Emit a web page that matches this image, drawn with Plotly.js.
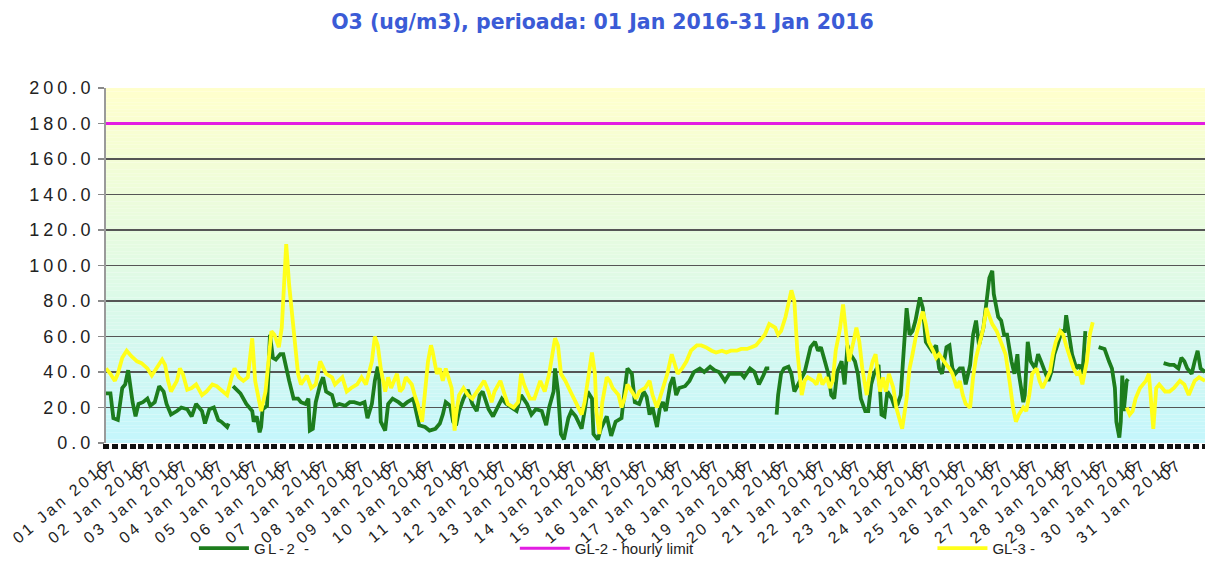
<!DOCTYPE html>
<html>
<head>
<meta charset="utf-8">
<script src="https://cdn.plot.ly/plotly-3.0.1.min.js"></script>
<style>
html,body{margin:0;padding:0;background:#fff;}
#chart{width:1205px;height:566px;}
.xtick text{letter-spacing:3px;}
.ytick text{letter-spacing:4px;}
.legendtext{letter-spacing:2.5px;}
</style>
</head>
<body>
<div id="chart"></div>
<script>
// ---- data (hours since 01 Jan 2016 00:00, value in ug/m3) ----
const days = [1,2,3,4,5,6,7,8,9,10,11,12,13,14,15,16,17,18,19,20,21,22,23,24,25,26,27,28,29,30,31];
const monthLabel = "Jan 2016";
const secondLabel = "07";

const gl2Hours = [0,3,5,8,11,13,15,18,20,22,25,28,30,33,36,39,41,44,48,51,55,58,61,65,67,70,73,76,78,82,83,84,86,91,95,99,100,102,104,105,106,109,111,113,115,118,120,122,124,127,130,132,135,137,138,140,142,145,147,149,153,155,158,162,165,168,172,175,177,180,182,184,185,186,189,191,194,198,201,204,208,212,216,219,223,226,228,230,233,235,237,239,242,245,248,251,253,255,259,262,265,268,271,274,278,281,285,288,291,295,298,300,303,304,306,308,310,313,315,318,322,324,326,329,330,333,335,339,342,345,349,351,353,356,358,361,364,366,368,370,373,375,377,379,382,384,386,388,392,395,398,402,405,409,412,415,419,422,427,430,432,436,439,442,445,447,449,451,454,455,457,459,462,464,466,470,473,477,480,482,484,486,489,491,493,495,498,500,502,504,507,509,511,514,516,518,520,523,525,527,529,532,534,536,538,542,544,546,548,551,553,555,559,562,564,566,569,571,573,575,578,580,582,585,587,589,591,594,596,598,600,601,604,606,608,610,613,615,617,618,621,622,624,626,629,631,633,635,638,640,642,644,647,649,650,652,654,657,659,661,663,666,672,676,679,681,683,684,686,687,688,689,691,692,694,716,720,723,726,728,730,732,735,737,739,741,744];
const gl2Values = [28,28,14,13,31,33,41,23,15,22,23,25,21,23,32,29,22,16,18,20,19,15,22,18,11,19,20,13,12,9,11,null,32,28,22,18,12,15,6,9,19,21,61,48,47,50,50,42,35,25,25,23,22,25,7,8,23,33,37,29,27,21,22,21,23,23,22,23,14,22,35,43,35,12,7,22,25,23,21,23,25,10,9,7,8,11,16,23,21,12,10,18,25,30,22,18,27,29,19,15,20,25,22,20,18,27,22,16,19,18,10,20,29,42,29,5,2,14,18,15,8,18,29,25,5,2,8,15,4,12,14,29,42,39,23,22,29,26,16,20,9,20,23,18,33,37,27,31,32,35,40,42,40,43,41,40,35,39,39,39,37,42,40,33,38,42,42,null,16,27,39,42,43,39,29,35,40,54,57,52,54,48,39,27,25,40,46,33,55,50,46,39,25,18,18,33,39,44,16,15,29,25,20,22,27,76,61,63,69,82,76,57,52,55,42,39,54,55,42,39,42,42,33,44,61,69,55,65,80,93,97,84,71,69,61,61,46,39,50,39,23,27,57,46,42,50,46,42,35,40,50,55,63,63,72,61,50,42,44,39,63,null,54,53,46,42,31,12,3,12,38,18,35,36,null,45,44,44,42,48,46,42,39,46,52,42,40];

const limitHours = [0,744];
const limitValues = [180,180];

const gl3Hours = [0,3,6,8,11,14,17,21,24,28,31,34,38,40,42,44,48,50,52,55,58,61,65,68,72,75,78,82,85,87,90,93,96,99,101,103,105,108,110,112,114,117,119,121,122,124,126,128,130,132,136,139,142,145,147,149,153,155,160,163,166,170,173,176,180,182,184,186,189,191,193,197,199,201,203,207,209,211,214,216,218,220,221,224,226,228,230,234,236,237,239,242,245,248,251,254,256,259,261,263,267,270,272,276,279,281,283,287,290,294,297,300,304,306,308,311,313,315,318,322,324,327,329,331,332,334,336,339,341,343,347,349,351,353,356,359,361,365,368,370,373,375,378,380,383,385,387,390,393,396,400,403,406,410,413,417,420,423,427,430,434,437,440,444,446,449,453,455,457,460,464,466,468,471,473,475,479,481,483,485,488,490,492,494,497,499,501,503,506,508,510,512,515,517,519,521,524,526,528,530,533,535,537,539,542,544,546,548,551,553,555,557,560,562,564,567,569,571,573,576,578,580,582,585,587,589,591,594,596,598,600,603,605,607,609,612,614,616,618,621,623,625,627,630,632,634,637,639,641,643,646,648,650,652,655,657,659,661,664,666,668,670,691,693,695,697,700,702,704,706,709,711,713,717,720,723,727,730,733,737,740,744];
const gl3Values = [42,39,35,39,48,52,49,46,45,42,38,42,47,44,35,29,35,42,39,30,31,33,27,29,33,32,30,27,37,42,37,35,37,59,35,25,18,29,46,63,61,54,65,91,112,89,72,55,39,33,38,31,33,46,43,39,37,33,37,29,31,33,37,33,46,60,55,42,29,37,31,39,29,31,37,33,27,22,12,27,46,55,52,39,42,35,42,31,7,16,27,31,27,25,29,33,35,29,23,29,35,27,22,20,23,39,33,25,25,35,29,39,59,55,39,35,31,28,23,16,23,39,51,39,18,5,23,37,35,31,27,20,25,33,29,25,29,31,35,27,20,25,33,39,50,44,39,42,46,52,55,55,54,52,51,52,51,52,52,53,53,54,55,59,61,67,65,61,63,71,86,80,52,27,35,37,35,33,39,33,37,31,35,52,65,78,61,46,57,65,57,42,27,39,46,50,29,37,29,39,31,20,14,8,25,42,50,59,69,74,67,57,52,48,50,46,44,42,39,31,35,27,22,20,37,48,55,65,76,72,67,63,59,54,50,33,20,12,16,20,18,27,39,42,35,31,37,40,50,57,63,61,55,50,42,39,40,33,46,61,68,null,20,16,18,25,31,33,35,39,8,31,33,29,29,31,35,33,27,35,37,35];

// ---- tick labels built from the day list ----
const tickVals = [];
const tickText = [];
days.forEach(d => {
  const dd = (d < 10 ? "0" : "") + d;
  tickVals.push((d - 1) * 24);
  tickText.push(dd + " " + monthLabel);
  tickVals.push((d - 1) * 24 + 6);
  tickText.push(secondLabel);
});

// ---- background gradient bands (style only) ----
const shapes = [];
const bandCount = 100;
const cBottom = [196, 246, 252];
const cTop = [255, 255, 204];
for (let k = 0; k < bandCount; k++) {
  const t = (k + 0.5) / bandCount;
  const c = cBottom.map((v, i) => Math.round(v + (cTop[i] - v) * t));
  shapes.push({
    type: 'rect', xref: 'paper', yref: 'paper', layer: 'below',
    x0: 0, x1: 1, y0: k / bandCount, y1: (k + 1) / bandCount,
    fillcolor: 'rgb(' + c.join(',') + ')', line: {width: 0}
  });
}

const FONT = '"Liberation Sans", Arial, sans-serif';

const traces = [
  {x: gl2Hours, y: gl2Values, type: 'scatter', mode: 'lines', name: 'GL-2 -',
   line: {color: '#1d7d1d', width: 3.8}, connectgaps: false, legend: 'legend', hoverinfo: 'skip'},
  {x: limitHours, y: limitValues, type: 'scatter', mode: 'lines', name: 'GL-2 - hourly limit',
   line: {color: '#e21de2', width: 3}, legend: 'legend2', hoverinfo: 'skip'},
  {x: gl3Hours, y: gl3Values, type: 'scatter', mode: 'lines', name: 'GL-3 -',
   line: {color: '#ffff1a', width: 3.8}, connectgaps: false, legend: 'legend3', hoverinfo: 'skip'}
];

const legendBase = {orientation: 'h', yanchor: 'middle', y: -0.297, xanchor: 'left',
  bgcolor: 'rgba(0,0,0,0)', font: {family: FONT, size: 15, color: '#222'}, itemwidth: 50};

const layout = {
  width: 1205, height: 566,
  margin: {l: 106, r: 0, t: 88, b: 123},
  paper_bgcolor: '#ffffff',
  plot_bgcolor: '#ffffff',
  title: {text: 'O3 (ug/m3), perioada: 01 Jan 2016-31 Jan 2016',
    font: {family: '"DejaVu Sans", Verdana, sans-serif', size: 20.5, color: '#3b5bd6', weight: 'bold'},
    x: 0.5, xanchor: 'center', y: 0.961, yanchor: 'middle'},
  xaxis: {
    range: [0, 744], showgrid: false, zeroline: false, showline: false,
    tickmode: 'array', tickvals: tickVals, ticktext: tickText, tickangle: -40,
    ticks: 'outside', ticklen: 5, tickwidth: 6, tickcolor: '#111',
    tickfont: {family: FONT, size: 16, color: '#222'},
    minor: {tickmode: 'linear', tick0: 0, dtick: 6, ticks: 'outside', ticklen: 5, tickwidth: 6, tickcolor: '#111', showgrid: false}
  },
  yaxis: {
    range: [0, 200], dtick: 20, tick0: 0, tickformat: '.1f',
    showgrid: true, gridcolor: '#555555', gridwidth: 1.5, zeroline: false,
    showline: true, linecolor: '#9a9a9a', linewidth: 2,
    ticks: 'outside', ticklen: 6, tickcolor: '#8a8a8a', tickwidth: 1.5,
    tickfont: {family: FONT, size: 18, color: '#222'}
  },
  shapes: shapes,
  showlegend: true,
  legend: Object.assign({}, legendBase, {x: 0.08}),
  legend2: Object.assign({}, legendBase, {x: 0.372}),
  legend3: Object.assign({}, legendBase, {x: 0.752})
};

Plotly.newPlot('chart', traces, layout, {displayModeBar: false, staticPlot: true});
</script>
</body>
</html>
